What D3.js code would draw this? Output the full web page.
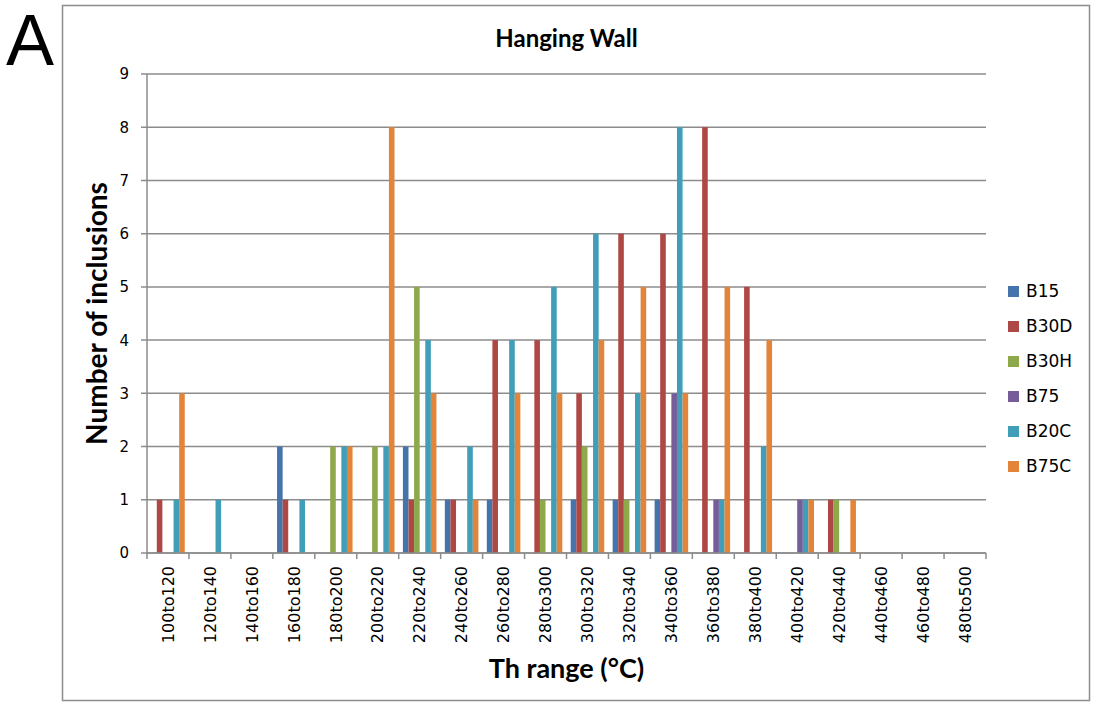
<!DOCTYPE html>
<html>
<head>
<meta charset="utf-8">
<script src="https://cdn.jsdelivr.net/npm/d3@7"></script>
<style>
  body { margin: 0; background: #fff; }
  .tick-label { font-family: "DejaVu Sans", Verdana, sans-serif; fill: #000; }
  .axis-title { font-family: Lato, "Open Sans", sans-serif; font-weight: bold; fill: #000; }
</style>
</head>
<body>
<div id="container"></div>
<script>
// categories (Th ranges) and counts per sample
var categories = ["100to120", "120to140", "140to160", "160to180", "180to200",
  "200to220", "220to240", "240to260", "260to280", "280to300", "300to320",
  "320to340", "340to360", "360to380", "380to400", "400to420", "420to440",
  "440to460", "460to480", "480to500"];

var seriesNames = ["B15", "B30D", "B30H", "B75", "B20C", "B75C"];

var b15  = [0, 0, 0, 2, 0, 0, 2, 1, 1, 0, 1, 1, 1, 0, 0, 0, 0, 0, 0, 0];
var b30d = [1, 0, 0, 1, 0, 0, 1, 1, 4, 4, 3, 6, 6, 8, 5, 0, 1, 0, 0, 0];
var b30h = [0, 0, 0, 0, 2, 2, 5, 0, 0, 1, 2, 1, 0, 0, 0, 0, 1, 0, 0, 0];
var b75  = [0, 0, 0, 0, 0, 0, 0, 0, 0, 0, 0, 0, 3, 1, 0, 1, 0, 0, 0, 0];
var b20c = [1, 1, 0, 1, 2, 2, 4, 2, 4, 5, 6, 3, 8, 1, 2, 1, 0, 0, 0, 0];
var b75c = [3, 0, 0, 0, 2, 8, 3, 1, 3, 3, 4, 5, 3, 5, 4, 1, 1, 0, 0, 0];

var yTicks = [0, 1, 2, 3, 4, 5, 6, 7, 8, 9];

var colors = ["#4574ac", "#ae4845", "#8ea84c", "#765c98", "#409eb8", "#e2853b"];

var seriesValues = [b15, b30d, b30h, b75, b20c, b75c];

//-----------------------------SVG------------------------------//
const width = 1094;
const height = 703;
const plot = {left: 147, right: 986, top: 74, bottom: 553};

const svg = d3.select("div#container").append("svg")
    .attr("width", width)
    .attr("height", height);

// outer frame
svg.append("rect")
    .attr("x", 62.5)
    .attr("y", 5.5)
    .attr("width", 1027)
    .attr("height", 695)
    .attr("fill", "#fff")
    .attr("stroke", "#8c8c8c")
    .attr("stroke-width", 1.5);

// panel letter
svg.append("text")
    .attr("x", 6)
    .attr("y", 65)
    .style("font-family", "'Liberation Sans', Arial, sans-serif")
    .style("font-size", "72px")
    .text("A");

//----------------------------SCALES----------------------------//
const xScale = d3.scaleBand()
    .domain(categories)
    .range([plot.left, plot.right])
    .paddingInner(0.2)
    .paddingOuter(0.1);

const xInner = d3.scaleBand()
    .domain(seriesNames)
    .range([0, xScale.bandwidth()]);

const yScale = d3.scaleLinear()
    .domain([0, 9])
    .range([plot.bottom, plot.top]);

//-----------------------------GRID-----------------------------//
svg.append("g")
    .selectAll("line")
    .data(yTicks)
    .enter()
    .append("line")
    .attr("x1", plot.left - 6)
    .attr("x2", plot.right)
    .attr("y1", function(d) { return yScale(d); })
    .attr("y2", function(d) { return yScale(d); })
    .attr("stroke", "#8c8c8c")
    .attr("stroke-width", 1.5);

// y axis line
svg.append("line")
    .attr("x1", plot.left).attr("x2", plot.left)
    .attr("y1", plot.top).attr("y2", plot.bottom)
    .attr("stroke", "#8c8c8c")
    .attr("stroke-width", 1.5);

// y labels
svg.append("g")
    .selectAll("text")
    .data(yTicks)
    .enter()
    .append("text")
    .attr("class", "tick-label")
    .attr("x", plot.left - 18)
    .attr("y", function(d) { return yScale(d); })
    .attr("dy", "0.36em")
    .attr("text-anchor", "end")
    .style("font-size", "15px")
    .text(function(d) { return d; });

//-----------------------------BARS-----------------------------//
const groups = svg.append("g")
    .selectAll("g")
    .data(seriesNames)
    .enter()
    .append("g")
    .attr("fill", function(d, i) { return colors[i]; });

groups.selectAll("rect")
    .data(function(d, i) {
      return seriesValues[i].map(function(v, j) {
        return {series: d, cat: categories[j], value: v};
      });
    })
    .enter()
    .filter(function(d) { return d.value > 0; })
    .append("rect")
    .attr("x", function(d) { return xScale(d.cat) + xInner(d.series); })
    .attr("y", function(d) { return yScale(d.value); })
    .attr("width", xInner.bandwidth())
    .attr("height", function(d) { return plot.bottom - yScale(d.value); });

//----------------------------X AXIS----------------------------//
svg.append("line")
    .attr("x1", plot.left).attr("x2", plot.right)
    .attr("y1", plot.bottom).attr("y2", plot.bottom)
    .attr("stroke", "#8c8c8c")
    .attr("stroke-width", 1.5);

// ticks at category boundaries
const step = xScale.step();
const x0 = xScale(categories[0]) - step * xScale.paddingOuter();
svg.append("g")
    .selectAll("line")
    .data(d3.range(categories.length + 1))
    .enter()
    .append("line")
    .attr("x1", function(i) { return x0 + i * step; })
    .attr("x2", function(i) { return x0 + i * step; })
    .attr("y1", plot.bottom)
    .attr("y2", plot.bottom + 6)
    .attr("stroke", "#8c8c8c")
    .attr("stroke-width", 1.5);

svg.append("g")
    .selectAll("text")
    .data(categories)
    .enter()
    .append("text")
    .attr("class", "tick-label")
    .attr("transform", function(d) {
      return "translate(" + (xScale(d) + xScale.bandwidth() / 2) + "," + (plot.bottom + 13) + ") rotate(-90)";
    })
    .attr("dy", "0.36em")
    .attr("text-anchor", "end")
    .style("font-size", "16px")
    .text(function(d) { return d; });

//----------------------------TITLES----------------------------//
svg.append("text")
    .attr("class", "axis-title")
    .attr("x", (plot.left + plot.right) / 2)
    .attr("y", 47)
    .attr("text-anchor", "middle")
    .style("font-size", "24px")
    .text("Hanging Wall");

svg.append("text")
    .attr("class", "axis-title")
    .attr("x", (plot.left + plot.right) / 2)
    .attr("y", 678)
    .attr("text-anchor", "middle")
    .style("font-size", "27px")
    .text("Th range (°C)");

svg.append("text")
    .attr("class", "axis-title")
    .attr("transform", "translate(107," + ((plot.top + plot.bottom) / 2) + ") rotate(-90)")
    .attr("text-anchor", "middle")
    .style("font-size", "28px")
    .text("Number of inclusions");

//----------------------------LEGEND----------------------------//
const legend = svg.append("g")
    .selectAll("g")
    .data(seriesNames)
    .enter()
    .append("g")
    .attr("transform", function(d, i) { return "translate(1008," + (291 + i * 35) + ")"; });

legend.append("rect")
    .attr("x", 0)
    .attr("y", -5)
    .attr("width", 11)
    .attr("height", 11)
    .attr("fill", function(d, i) { return colors[i]; });

legend.append("text")
    .attr("class", "tick-label")
    .attr("x", 18)
    .attr("dy", "0.36em")
    .style("font-size", "17px")
    .text(function(d) { return d; });
</script>
</body>
</html>
